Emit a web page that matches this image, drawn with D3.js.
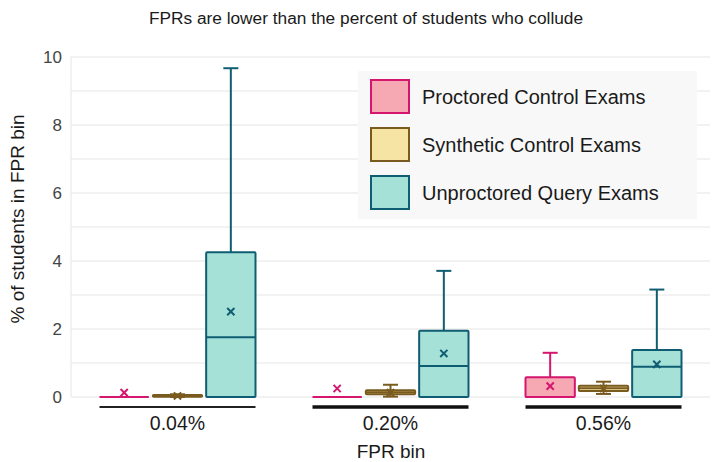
<!DOCTYPE html>
<html>
<head>
<meta charset="utf-8">
<script src="https://cdn.jsdelivr.net/npm/d3@7"></script>
<style>
  html, body { margin: 0; padding: 0; background: #fff; }
  svg { display: block; font-family: "Liberation Sans", Arial, Helvetica, sans-serif; }
</style>
</head>
<body>
<svg id="chart" width="715" height="462"></svg>
<script>
// FPR bins along the x axis
const categories = ["0.04%", "0.20%", "0.56%"];
// exam groups, one box per bin
const series = ["Proctored Control Exams", "Synthetic Control Exams", "Unproctored Query Exams"];
// box statistics, rows = series, columns = FPR bins (% of students)
const lowWhisker  = [[0, 0, 0],          [0, 0.01, 0.09],     [0, 0, 0]];
const q1          = [[0, 0, 0],          [0.01, 0.08, 0.18],  [0, 0, 0]];
const median      = [[0, 0, 0],          [0.03, 0.14, 0.26],  [1.76, 0.91, 0.89]];
const q3          = [[0, 0, 0.58],       [0.06, 0.20, 0.33],  [4.26, 1.95, 1.38]];
const highWhisker = [[0, 0, 1.30],       [0.08, 0.36, 0.45],  [9.67, 3.71, 3.16]];
const mean        = [[0.13, 0.25, 0.32], [0.03, 0.13, 0.25],  [2.51, 1.28, 0.96]];
const yTicks = [0, 2, 4, 6, 8, 10];

// styling
const fills   = ["#f6a8b3", "#f5e4a3", "#a6e1d7"];
const strokes = ["#d4166f", "#7a5b1f", "#0f5d72"];
const binRuleWidth = [2, 3.5, 3.5];

const svg = d3.select("#chart");
const W = 715, H = 462;
const m = { left: 71, right: 5, top: 45, bottom: 65 };

const x = d3.scaleBand().domain(categories).range([m.left, W - m.right]).padding(0);
const groupWidth = 156;
const xs = d3.scaleBand().domain(series).range([-groupWidth / 2, groupWidth / 2]).paddingInner(0.075);
const y = d3.scaleLinear().domain([0, 10]).range([397, 57]);

// grid: minor + major
const gridVals = d3.range(0, 10.01, 1);
svg.append("g").selectAll("line").data(gridVals).join("line")
  .attr("x1", m.left).attr("x2", W - m.right)
  .attr("y1", d => y(d)).attr("y2", d => y(d))
  .attr("stroke", "#e6e6e6").attr("stroke-width", d => d % 2 === 0 ? 1.2 : 1);
svg.append("line")
  .attr("x1", m.left).attr("x2", m.left)
  .attr("y1", y(10)).attr("y2", y(0))
  .attr("stroke", "#e6e6e6");

// y axis labels
const yAxis = d3.axisLeft(y).tickValues(yTicks).tickSize(0).tickPadding(9).tickFormat(d3.format("d"));
const yg = svg.append("g").attr("transform", `translate(${m.left},0)`).call(yAxis);
yg.select(".domain").remove();
yg.selectAll("text").attr("font-size", 17).attr("fill", "#444").attr("font-family", "Liberation Sans, Arial, sans-serif");

// boxes
const boxW = xs.bandwidth();
const capW = 15;
series.forEach((s, si) => {
  const g = svg.append("g");
  categories.forEach((c, ci) => {
    const cx = x(c) + x.bandwidth() / 2 + xs(s) + boxW / 2;
    const col = strokes[si];
    // whiskers
    g.append("line").attr("x1", cx).attr("x2", cx)
      .attr("y1", y(q3[si][ci])).attr("y2", y(highWhisker[si][ci]))
      .attr("stroke", col).attr("stroke-width", 2);
    g.append("line").attr("x1", cx).attr("x2", cx)
      .attr("y1", y(q1[si][ci])).attr("y2", y(lowWhisker[si][ci]))
      .attr("stroke", col).attr("stroke-width", 2);
    if (highWhisker[si][ci] > q3[si][ci]) {
      g.append("line").attr("x1", cx - capW / 2).attr("x2", cx + capW / 2)
        .attr("y1", y(highWhisker[si][ci])).attr("y2", y(highWhisker[si][ci]))
        .attr("stroke", col).attr("stroke-width", 2);
    }
    if (lowWhisker[si][ci] < q1[si][ci]) {
      g.append("line").attr("x1", cx - capW / 2).attr("x2", cx + capW / 2)
        .attr("y1", y(lowWhisker[si][ci])).attr("y2", y(lowWhisker[si][ci]))
        .attr("stroke", col).attr("stroke-width", 2);
    }
    // box
    g.append("rect")
      .attr("x", cx - boxW / 2).attr("width", boxW)
      .attr("y", y(q3[si][ci])).attr("height", y(q1[si][ci]) - y(q3[si][ci]))
      .attr("fill", fills[si]).attr("stroke", col).attr("stroke-width", 2)
      .attr("rx", 1);
    // median
    g.append("line").attr("x1", cx - boxW / 2).attr("x2", cx + boxW / 2)
      .attr("y1", y(median[si][ci])).attr("y2", y(median[si][ci]))
      .attr("stroke", col).attr("stroke-width", 2);
    // mean marker
    const my = y(mean[si][ci]), r = 3.6;
    g.append("path")
      .attr("d", `M${cx - r},${my - r}L${cx + r},${my + r}M${cx - r},${my + r}L${cx + r},${my - r}`)
      .attr("stroke", col).attr("stroke-width", 2).attr("fill", "none");
  });
});

// bin rules under each group
svg.append("g").selectAll("line").data(categories).join("line")
  .attr("x1", d => x(d) + x.bandwidth() / 2 - groupWidth / 2)
  .attr("x2", d => x(d) + x.bandwidth() / 2 + groupWidth / 2)
  .attr("y1", 407).attr("y2", 407)
  .attr("stroke", (d, i) => i === 0 ? "#222" : "#111")
  .attr("stroke-width", (d, i) => binRuleWidth[i]);

// x axis labels
const xAxis = d3.axisBottom(x).tickSize(0).tickPadding(19);
const xg = svg.append("g").attr("transform", `translate(0,${y(0)})`).call(xAxis);
xg.select(".domain").remove();
xg.selectAll("text").attr("font-size", 19.5).attr("fill", "#1a1a1a").attr("font-family", "Liberation Sans, Arial, sans-serif");

// titles
svg.append("text").attr("x", 366).attr("y", 24).attr("text-anchor", "middle")
  .attr("font-size", 17.3).attr("fill", "#1a1a1a")
  .text("FPRs are lower than the percent of students who collude");
svg.append("text").attr("x", 391).attr("y", 458).attr("text-anchor", "middle")
  .attr("font-size", 19).attr("fill", "#1a1a1a").text("FPR bin");
svg.append("text").attr("transform", `translate(24,${y(5) - 8}) rotate(-90)`).attr("text-anchor", "middle")
  .attr("font-size", 19).attr("fill", "#1a1a1a").text("% of students in FPR bin");

// legend
const lg = svg.append("g").attr("transform", "translate(358,71)");
lg.append("rect").attr("width", 339).attr("height", 148).attr("fill", "#f8f8f8");
series.forEach((s, i) => {
  const row = lg.append("g").attr("transform", `translate(13,${9 + i * 48})`);
  row.append("rect").attr("width", 38).attr("height", 33)
    .attr("fill", fills[i]).attr("stroke", strokes[i]).attr("stroke-width", 2);
  row.append("text").attr("x", 51).attr("y", 24)
    .attr("font-size", 20).attr("fill", "#1a1a1a").text(s);
});
</script>
</body>
</html>
